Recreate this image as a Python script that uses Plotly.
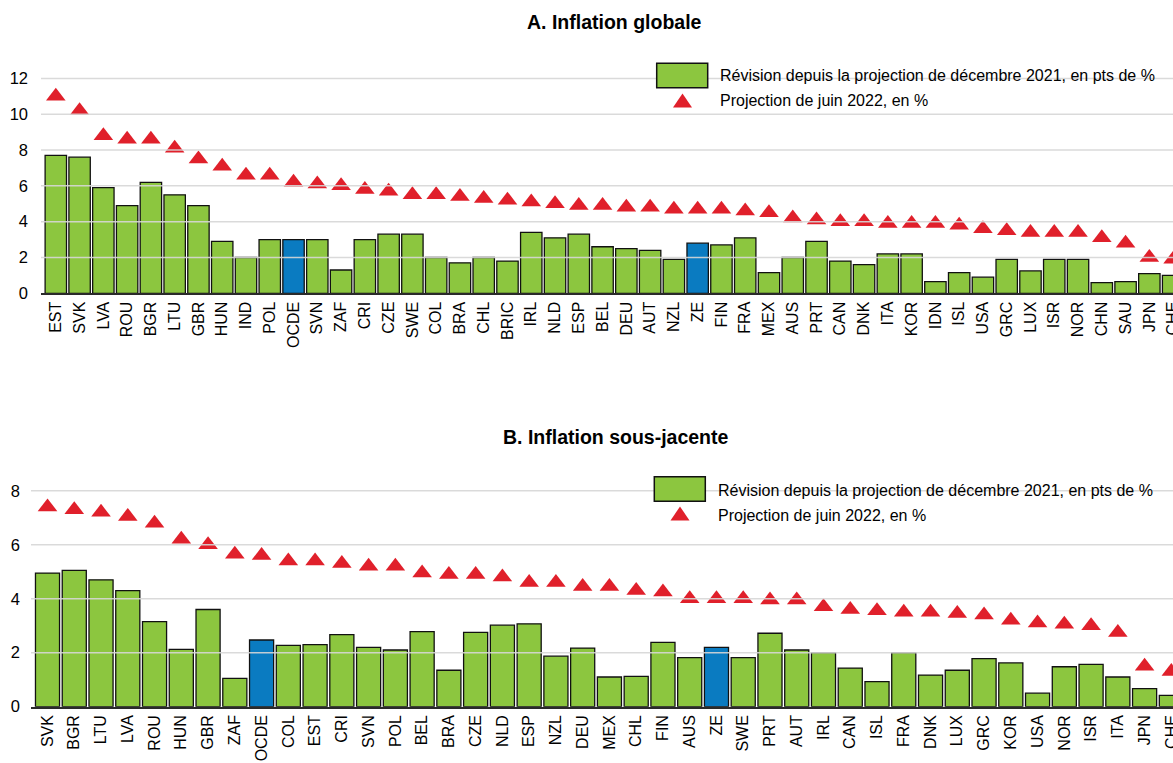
import plotly.graph_objects as go

# ---------------- Data ----------------
cats_a = ["EST", "SVK", "LVA", "ROU", "BGR", "LTU", "GBR", "HUN", "IND", "POL", "OCDE", "SVN",
          "ZAF", "CRI", "CZE", "SWE", "COL", "BRA", "CHL", "BRIC", "IRL", "NLD", "ESP", "BEL",
          "DEU", "AUT", "NZL", "ZE", "FIN", "FRA", "MEX", "AUS", "PRT", "CAN", "DNK", "ITA",
          "KOR", "IDN", "ISL", "USA", "GRC", "LUX", "ISR", "NOR", "CHN", "SAU", "JPN", "CHE"]
rev_a = [7.7, 7.6, 5.9, 4.9, 6.2, 5.5, 4.9, 2.9, 2.0, 3.0, 3.0, 3.0,
         1.3, 3.0, 3.3, 3.3, 2.0, 1.7, 2.0, 1.8, 3.4, 3.1, 3.3, 2.6,
         2.5, 2.4, 1.9, 2.8, 2.7, 3.1, 1.15, 2.0, 2.9, 1.8, 1.6, 2.2,
         2.2, 0.65, 1.15, 0.9, 1.9, 1.25, 1.9, 1.9, 0.6, 0.65, 1.1, 1.0]
proj_a = [11.0, 10.2, 8.8, 8.6, 8.6, 8.1, 7.5, 7.1, 6.6, 6.6, 6.2, 6.1,
          6.0, 5.8, 5.7, 5.5, 5.5, 5.4, 5.3, 5.2, 5.1, 5.0, 4.9, 4.9,
          4.8, 4.8, 4.7, 4.7, 4.7, 4.6, 4.5, 4.2, 4.1, 4.0, 4.0, 3.9,
          3.9, 3.9, 3.8, 3.6, 3.5, 3.4, 3.4, 3.4, 3.1, 2.8, 2.0, 1.9]

cats_b = ["SVK", "BGR", "LTU", "LVA", "ROU", "HUN", "GBR", "ZAF", "OCDE", "COL", "EST", "CRI",
          "SVN", "POL", "BEL", "BRA", "CZE", "NLD", "ESP", "NZL", "DEU", "MEX", "CHL", "FIN",
          "AUS", "ZE", "SWE", "PRT", "AUT", "IRL", "CAN", "ISL", "FRA", "DNK", "LUX", "GRC",
          "KOR", "USA", "NOR", "ISR", "ITA", "JPN", "CHE"]
rev_b = [4.95, 5.05, 4.7, 4.3, 3.15, 2.12, 3.6, 1.05, 2.47, 2.27, 2.3, 2.67,
         2.2, 2.1, 2.78, 1.35, 2.75, 3.02, 3.07, 1.87, 2.17, 1.1, 1.12, 2.38,
         1.82, 2.2, 1.82, 2.72, 2.1, 2.0, 1.43, 0.93, 2.0, 1.17, 1.35, 1.78,
         1.62, 0.5, 1.48, 1.57, 1.1, 0.67, 0.42]
proj_b = [7.4, 7.3, 7.2, 7.05, 6.8, 6.2, 6.0, 5.65, 5.6, 5.4, 5.4, 5.3,
          5.2, 5.2, 4.95, 4.9, 4.9, 4.8, 4.6, 4.6, 4.45, 4.45, 4.3, 4.25,
          4.0, 4.0, 4.0, 3.95, 3.95, 3.7, 3.6, 3.55, 3.5, 3.5, 3.45, 3.4,
          3.2, 3.1, 3.05, 3.0, 2.75, 1.5, 1.3]

ticks_a = [0, 2, 4, 6, 8, 10, 12]
ticks_b = [0, 2, 4, 6, 8]

title_a = "A. Inflation globale"
title_b = "B. Inflation sous-jacente"
legend_bar = "Révision depuis la projection de décembre 2021, en pts de %"
legend_tri = "Projection de juin 2022, en %"
highlight = ["OCDE", "ZE"]

# ---------------- Styles ----------------
# The figure is a little wider than the 1173 px window: as in the reference,
# the last country (CHE) is cut by the right edge of the picture.
W, H = 1185, 763
GREEN = "#8cc63f"
BLUE = "#0a7bc1"
RED = "#e0202b"
GRID = "rgba(214,214,214,0.9)"
FONT = "Arial, 'Liberation Sans', sans-serif"


def px(x):
    return x / W


def py(y):
    return 1 - y / H


def colors(cats):
    return [BLUE if c in highlight else GREEN for c in cats]


fig = go.Figure()

fig.add_trace(go.Bar(x=cats_a, y=rev_a, width=0.9, marker=dict(color=colors(cats_a),
                     line=dict(color="#111111", width=1.3)), xaxis="x", yaxis="y",
                     name=legend_bar, showlegend=False))
fig.add_trace(go.Scatter(x=cats_a, y=proj_a, mode="markers", xaxis="x", yaxis="y",
                         marker=dict(symbol="triangle-up", size=17, color=RED),
                         name=legend_tri, showlegend=False))
fig.add_trace(go.Bar(x=cats_b, y=rev_b, width=0.9, marker=dict(color=colors(cats_b),
                     line=dict(color="#111111", width=1.3)), xaxis="x2", yaxis="y2",
                     name=legend_bar, showlegend=False))
fig.add_trace(go.Scatter(x=cats_b, y=proj_b, mode="markers", xaxis="x2", yaxis="y2",
                         marker=dict(symbol="triangle-up", size=17, color=RED),
                         name=legend_tri, showlegend=False))

xcommon = dict(type="category", tickangle=-90, showgrid=False, showline=True,
               linecolor="#2a2a2a", linewidth=2, ticks="", zeroline=False,
               tickfont=dict(family=FONT, size=16, color="#000"), automargin=False)
ycommon = dict(showgrid=False, zeroline=False, showline=False, ticks="",
               tickfont=dict(family=FONT, size=16.5, color="#000"), automargin=False)

fig.update_layout(
    width=W, height=H,
    margin=dict(l=0, r=0, t=0, b=0),
    paper_bgcolor="white", plot_bgcolor="white",
    font=dict(family=FONT, color="#000"),
    showlegend=False,
    xaxis=dict(xcommon, domain=[px(41), 1], range=[-0.623, 47.5], anchor="y"),
    yaxis=dict(ycommon, domain=[py(293.3), py(60)], range=[0, 13.03], tickvals=ticks_a,
               anchor="x", ticklabelstandoff=12),
    xaxis2=dict(xcommon, domain=[px(31), 1], range=[-0.617, 42.51], anchor="y2"),
    yaxis2=dict(ycommon, domain=[py(706.7), py(474)], range=[0, 8.62], tickvals=ticks_b,
                anchor="x2", ticklabelstandoff=10),
)

shapes = []
# gridlines drawn above the marks, as in the reference
for t in ticks_a[1:]:
    shapes.append(dict(type="line", xref="x domain", yref="y", x0=0, x1=1, y0=t, y1=t,
                       line=dict(color=GRID, width=1.5), layer="above"))
for t in ticks_b[1:]:
    shapes.append(dict(type="line", xref="x2 domain", yref="y2", x0=0, x1=1, y0=t, y1=t,
                       line=dict(color=GRID, width=1.5), layer="above"))


def legend_items(rx0, ry0, tcx, tcy, tx, ty1, ty2):
    items = [dict(type="rect", xref="paper", yref="paper", x0=px(rx0), x1=px(rx0 + 51),
                  y0=py(ry0 + 24.5), y1=py(ry0), fillcolor=GREEN,
                  line=dict(color="#111111", width=1.5), layer="above")]
    path = "M {:.5f},{:.5f} L {:.5f},{:.5f} L {:.5f},{:.5f} Z".format(
        px(tcx - 9.5), py(tcy + 7), px(tcx + 9.5), py(tcy + 7), px(tcx), py(tcy - 7))
    items.append(dict(type="path", xref="paper", yref="paper", path=path,
                      fillcolor=RED, line=dict(color=RED, width=0), layer="above"))
    anns = [dict(text=legend_bar, x=px(tx), y=py(ty1), xref="paper", yref="paper",
                 xanchor="left", yanchor="middle", showarrow=False,
                 font=dict(family=FONT, size=16, color="#000")),
            dict(text=legend_tri, x=px(tx), y=py(ty2), xref="paper", yref="paper",
                 xanchor="left", yanchor="middle", showarrow=False,
                 font=dict(family=FONT, size=16, color="#000"))]
    return items, anns


s1, a1 = legend_items(656.7, 63.3, 682.5, 100.5, 718, 75.7, 100.7)
s2, a2 = legend_items(654.3, 476.7, 680, 513.5, 716, 490, 515.7)
shapes += s1 + s2

annotations = a1 + a2 + [
    dict(text="<b>" + title_a + "</b>", x=px(614), y=py(22), xref="paper", yref="paper",
         xanchor="center", yanchor="middle", showarrow=False,
         font=dict(family=FONT, size=19.5, color="#000")),
    dict(text="<b>" + title_b + "</b>", x=px(616), y=py(437), xref="paper", yref="paper",
         xanchor="center", yanchor="middle", showarrow=False,
         font=dict(family=FONT, size=19.5, color="#000")),
]

fig.update_layout(shapes=shapes, annotations=annotations)

# remove the browser's default page margin so the figure sits at the window's corner,
# and keep the page from showing scrollbars
fig.write_html(
    "out.html",
    config={"displayModeBar": False},
    post_script=("document.body.style.margin='0';document.body.style.padding='0';"
                 "document.body.style.overflow='hidden';"
                 "document.documentElement.style.overflow='hidden';"),
)
